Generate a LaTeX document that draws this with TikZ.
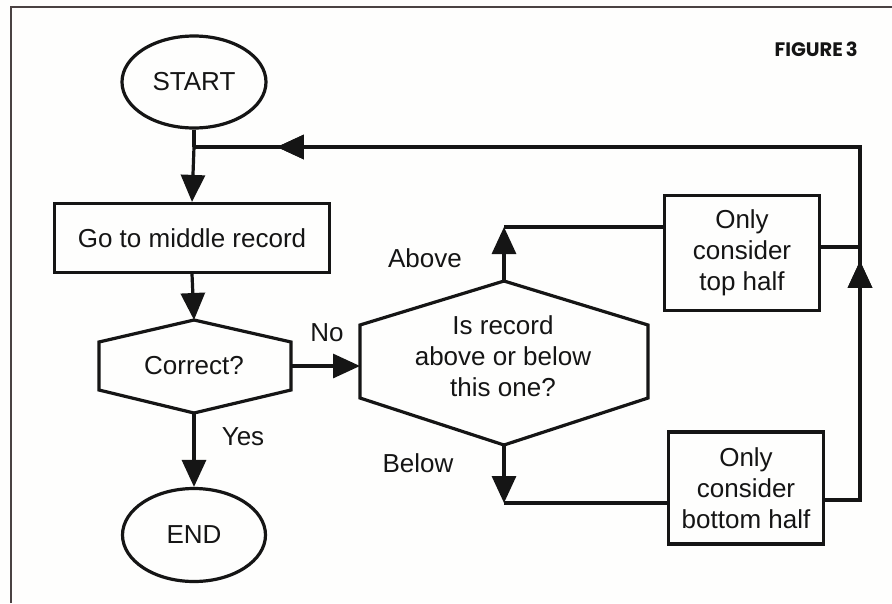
\documentclass[tikz,border=0pt]{standalone}
\usepackage{fontspec}
\setmainfont{Liberation Sans}
\newfontfamily\figfont{Poppins}
\usetikzlibrary{arrows.meta,shapes.geometric,decorations.markings}

\definecolor{ink}{HTML}{151515}
\definecolor{paper}{HTML}{FEFEFD}
\definecolor{framec}{HTML}{4A4242}

\begin{document}
\begin{tikzpicture}[x=1pt,y=-1pt,
  every node/.style={text=ink, font=\fontsize{26}{31}\selectfont},
  conn/.style={draw=ink, line width=3.2pt},
  boxline/.style={draw=ink, line width=3.2pt, line join=miter},
  head/.style={-{Triangle[length=27pt,width=24pt]}},
  terminal/.style={ellipse, draw=ink, line width=3.2pt, inner sep=0pt},
  procbox/.style={rectangle, draw=ink, line width=3.2pt, inner sep=0pt, align=center},
  lbl/.style={inner sep=0pt, anchor=center},
  midhead/.style={postaction={decorate}, decoration={markings, mark=at position #1 with {\arrow{Triangle[length=27pt,width=24pt]}}}}
]
% page and frame
\fill[paper] (0,0) rectangle (892,603);
\useasboundingbox (0,0) rectangle (892,603);
\draw[framec, line width=1.4pt] (11,603) -- (11,7) -- (892,7);

\node[lbl, anchor=base east, font=\figfont\bfseries\fontsize{19.5}{22}\selectfont] (fig) at (858,56) {FIGURE\kern-1pt\ 3};

% left column
\node[terminal, minimum width=144pt, minimum height=92pt] (start) at (194,82) {START};
\node[procbox, minimum width=275pt, minimum height=69pt] (mid) at (192,238) {Go to middle record};
\node[terminal, minimum width=143pt, minimum height=93pt] (end) at (194,535) {END};

% decision: Correct?
\coordinate (cT) at (194,320);
\coordinate (cUR) at (291,342);
\coordinate (cLR) at (291,390);
\coordinate (cB) at (194,413);
\coordinate (cLL) at (99,390);
\coordinate (cUL) at (99,342);
\draw[boxline] (cT) -- (cUR) -- (cLR) -- (cB) -- (cLL) -- (cUL) -- cycle;
\node[lbl] (corr) at (194,366) {Correct?};
\coordinate (cR) at (291,366);

% decision: above or below
\coordinate (hT) at (504,281);
\coordinate (hUR) at (648,325);
\coordinate (hLR) at (648,398);
\coordinate (hB) at (504,445);
\coordinate (hLL) at (360,398);
\coordinate (hUL) at (360,325);
\coordinate (hL) at (360,366);
\draw[boxline] (hT) -- (hUR) -- (hLR) -- (hB) -- (hLL) -- (hUL) -- cycle;
\node[lbl, align=center] (ask) at (503,356) {Is record\\above or below\\this one?};

% halving steps
\node[procbox, minimum width=155pt, minimum height=115pt] (top) at (742,253) {Only\\consider\\top half};
\node[procbox, minimum width=155pt, minimum height=112pt] (bot) at (746,488) {Only\\consider\\bottom half};

% routing points
\coordinate (loopL) at (194,147);
\coordinate (loopR) at (860,147);
\coordinate (abv) at (504,227);
\coordinate (blw) at (504,503);
\coordinate (topR) at (860,247);
\coordinate (botR) at (860,500);

% connectors
\draw[conn] (start.south) -- (loopL);
\draw[conn, head] (loopL) -- (mid.north);
\draw[conn, head] (mid.south) -- (cT);
\draw[conn, head] (cB) -- (end.north);
\draw[conn, head] (cR) -- (hL);
\draw[conn, head] (hT) -- (abv);
\draw[conn] (abv) -- (abv -| top.west);
\draw[conn, head] (hB) -- (blw);
\draw[conn] (blw) -- (blw -| bot.west);
\draw[conn] (topR -| top.east) -- (topR);
\draw[conn, line join=miter, midhead=274pt, midhead=971pt]
  (botR -| bot.east) -- (botR) -- (loopR) -- (loopL);

% branch labels
\node[lbl] (no) at (327,333) {No};
\node[lbl] (yes) at (243,437) {Yes};
\node[lbl] (above) at (425,258) {Above};
\node[lbl] (below) at (418,463) {Below};
\end{tikzpicture}
\end{document}
